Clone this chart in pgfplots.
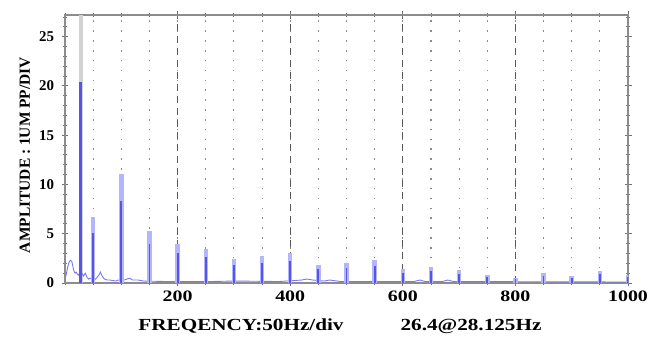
\documentclass[border=0pt]{standalone}
\usepackage{fontspec}
\setmainfont{Liberation Serif}
\newfontfamily\widefont{Liberation Serif}[FakeStretch=1.25]
\usepackage{pgfplots}
\pgfplotsset{compat=1.18}
\definecolor{specblue}{RGB}{85,85,230}
\definecolor{speclight}{RGB}{180,180,255}
\definecolor{noiseblue}{RGB}{120,120,250}
\pgfplotstableread{
f light dark
50 6.7 5.1
100 11.1 8.3
150 5.3 4.0
200 4.0 3.0
250 3.5 2.6
300 2.4 1.8
350 2.7 2.0
400 3.0 2.2
450 1.8 1.4
500 2.0 1.5
550 2.3 1.7
600 1.4 1.0
650 1.6 1.2
700 1.3 0.9
750 0.8 0.6
800 0.5 0.4
850 1.0 0.7
900 0.7 0.5
950 1.2 0.9
1000 0.8 0.6
}\peaks
\pgfplotstableread{
f a
0 0.5
2 0.8
4 1.4
6 1.9
8 2.2
10 2.3
12 2.2
14 1.7
16 1.2
18 1.0
20 1.1
22 0.9
24 0.8
26 1.0
30 1.0
33 0.7
36 1.0
39 0.6
42 0.4
45 0.5
48 0.4
52 0.3
56 0.5
60 0.8
63 1.1
66 0.7
70 0.4
75 0.3
80 0.3
90 0.2
95 0.3
105 0.3
110 0.4
115 0.5
120 0.3
130 0.3
140 0.2
180 0.15
260 0.15
300 0.2
380 0.15
420 0.3
430 0.4
440 0.3
460 0.2
470 0.3
490 0.15
620 0.15
630 0.3
640 0.15
670 0.15
680 0.3
690 0.15
1000 0.1
}\noise
\begin{document}
\begin{tikzpicture}
\useasboundingbox (-65bp,-54bp) rectangle (603bp,283bp);
\begin{axis}[at={(0,0)}, anchor=south west, scale only axis,
  width=563bp, height=268bp,
  xmin=0, xmax=1000, ymin=0, ymax=27.2,
  xtick={200,400,600,800,1000},
  minor xtick={0,50,...,1000},
  ytick={0,5,...,25},
  minor ytick={0,1,...,27},
  tick align=center,
  major tick length=7bp, minor tick length=4bp,
  axis line style={gray!90, line width=1.6bp},
  tick style={black!55, line width=0.9bp},
  xmajorgrids, xminorgrids,
  major grid style={black!65, dash pattern=on 7bp off 5bp, line width=1.3bp},
  minor grid style={black!45, dash pattern=on 1.6bp off 8.25bp, dash phase=5bp, line width=1.1bp},
  /pgf/number format/assume math mode=true,
  /pgf/number format/1000 sep={},
  xticklabel={\pgfmathprintnumber[assume math mode=true]{\tick}},
  yticklabel={\pgfmathprintnumber[assume math mode=true]{\tick}},
  xticklabel style={font=\widefont\bfseries\fontsize{16}{16}\selectfont, yshift=-1bp},
  yticklabel style={font=\bfseries\fontsize{15}{15}\selectfont, xshift=-4bp},
  clip=true,
]
\addplot[ycomb, gray!35, line width=4bp] coordinates {(28.125,27.2)};
\addplot[noiseblue, line width=0.9bp] table[x=f,y=a] {\noise};
\addplot[ycomb, speclight, line width=4.5bp] table[x=f,y=light] {\peaks};
\addplot[ycomb, specblue, line width=1.8bp] table[x=f,y=dark] {\peaks};
\addplot[ycomb, specblue, line width=3bp] coordinates {(28.125,20.4)};
\end{axis}
\node[font=\widefont\bfseries\fontsize{17}{17}\selectfont] at (176bp,-43bp) {FREQENCY:50Hz/div};
\node[font=\widefont\bfseries\fontsize{17}{17}\selectfont] at (406bp,-43bp) {26.4@28.125Hz};
\node[font=\bfseries\fontsize{15.5}{15.5}\selectfont, rotate=90] at (-40bp,128bp) {AMPLITUDE : 1UM PP/DIV};
\end{tikzpicture}
\end{document}
